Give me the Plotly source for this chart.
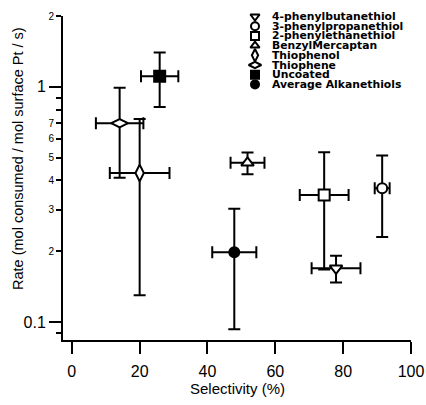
import math
import plotly.graph_objects as go

# ---- data ----
names = ["4-phenylbutanethiol", "3-phenylpropanethiol", "2-phenylethanethiol",
         "BenzylMercaptan", "Thiophenol", "Thiophene", "Uncoated", "Average Alkanethiols"]
selectivity = [77.9, 91.5, 74.4, 51.8, 20.0, 14.1, 25.9, 47.9]
selectivity_err = [7.2, 2.2, 7.2, 5.0, 8.8, 7.0, 5.5, 6.5]
rate = [0.169, 0.37, 0.347, 0.475, 0.43, 0.70, 1.11, 0.198]
rate_err = [0.022, 0.14, 0.18, 0.05, 0.30, 0.29, 0.29, 0.105]
symbols = ["triangle-down-open", "circle-open", "square-open", "triangle-up-open",
           "diamond-tall-open", "diamond-wide-open", "square", "circle"]
marker_sizes = [11, 10, 11, 11, 12, 12, 11, 10]

x_ticks = [0, 20, 40, 60, 80, 100]
y_minor_vals = [0.09, 0.2, 0.3, 0.4, 0.5, 0.6, 0.7, 0.8, 0.9, 2]
y_minor_text = ["", "2", "3", "4", "5", "6", "7", "", "", "2"]
y_major_vals = [0.1, 1]
y_major_text = ["0.1", "1"]

FONT = "Arial, Liberation Sans, sans-serif"
W, H = 426, 405
L, R, T, B = 63, 15, 16, 65
yrange = [math.log10(0.0838), math.log10(2)]

fig = go.Figure()

for i, n in enumerate(names):
    filled = not symbols[i].endswith("open")
    fig.add_trace(go.Scatter(
        x=[selectivity[i]], y=[rate[i]], mode="markers", name=n, showlegend=False,
        marker=dict(symbol=symbols[i].replace("-open", ""), size=marker_sizes[i],
                    color="black" if filled else "white",
                    line=dict(color="black", width=2)),
        error_x=dict(type="data", array=[selectivity_err[i]], color="black", thickness=2, width=6),
        error_y=dict(type="data", array=[rate_err[i]], color="black", thickness=2, width=6),
        cliponaxis=False,
    ))

# dummy trace for overlay axis with major ticks
fig.add_trace(go.Scatter(x=[None], y=[None], yaxis="y2", showlegend=False))

# custom legend (pixel coordinate helper axes)
leg_x = 255
leg_y0 = 16.5
leg_dy = 9.7
leg_sizes = [8, 8, 8, 8, 9, 9, 8, 8]
for i, n in enumerate(names):
    filled = not symbols[i].endswith("open")
    yy = leg_y0 + leg_dy * i
    fig.add_trace(go.Scatter(
        x=[leg_x], y=[yy], xaxis="x3", yaxis="y3", mode="markers", showlegend=False,
        marker=dict(symbol=symbols[i].replace("-open", ""), size=leg_sizes[i],
                    color="black" if filled else "white",
                    line=dict(color="black", width=2)),
        cliponaxis=False,
    ))
    fig.add_annotation(x=leg_x + 15, y=yy, xref="x3", yref="y3", text="<b>%s</b>" % n,
                       showarrow=False, xanchor="left", yanchor="middle",
                       font=dict(family="DejaVu Sans, sans-serif", size=10.8, color="black"))

pw = W - L - R
ph = H - T - B
fig.add_annotation(x=(18 - L) / pw, y=(H - B - 159) / ph, xref="paper", yref="paper",
                   text="Rate (mol consumed / mol surface Pt / s)", textangle=-90,
                   xanchor="center", yanchor="middle",
                   showarrow=False, font=dict(family=FONT, size=14.5, color="black"))
fig.add_annotation(x=(237 - L) / pw, y=(H - B - 388) / ph, xref="paper", yref="paper",
                   text="Selectivity (%)", showarrow=False, xanchor="center", yanchor="middle",
                   font=dict(family=FONT, size=15, color="black"))

fig.update_layout(
    width=W, height=H, autosize=False, margin=dict(l=L, r=R, t=T, b=B, autoexpand=False),
    paper_bgcolor="white", plot_bgcolor="rgba(0,0,0,0)", showlegend=False,
    font=dict(family=FONT, color="black"),
    xaxis=dict(range=[-2.6, 100], tickvals=x_ticks, showline=True, linewidth=2,
               linecolor="black", ticks="outside", ticklen=12, tickwidth=2,
               tickcolor="black", tickfont=dict(size=16), showgrid=False,
               zeroline=False, fixedrange=True, ticklabelstandoff=4, automargin=False),
    yaxis=dict(type="log", range=yrange, tickmode="array", tickvals=y_minor_vals,
               ticktext=y_minor_text, showline=True, linewidth=2, linecolor="black",
               ticks="outside", ticklen=5, tickwidth=2, tickcolor="black",
               tickfont=dict(size=10), showgrid=False, zeroline=False, automargin=False),
    yaxis2=dict(type="log", range=yrange, overlaying="y", side="left", anchor="x",
                tickmode="array", tickvals=y_major_vals, ticktext=y_major_text,
                showline=False, ticks="outside", ticklen=13, tickwidth=2,
                tickcolor="black", tickfont=dict(size=16), showgrid=False, zeroline=False,
                automargin=False),
    xaxis3=dict(domain=[0, 1], range=[L, W - R], anchor="y3", visible=False, fixedrange=True),
    yaxis3=dict(domain=[0, 1], range=[H - B, T], anchor="x3", visible=False, fixedrange=True),
)

fig.write_html("out.html", config={"responsive": False, "displayModeBar": False})
